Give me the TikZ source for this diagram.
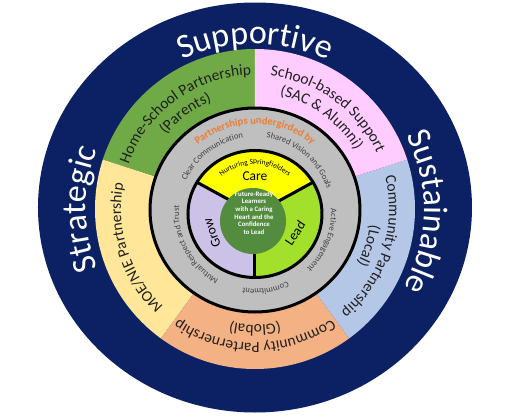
\documentclass[tikz,border=0pt]{standalone}
\usepackage{fontspec}
\setmainfont{Carlito}
\usetikzlibrary{decorations.text}
\definecolor{navyc}{HTML}{0B2163}
\definecolor{greenc}{HTML}{6FAA47}
\definecolor{pinkc}{HTML}{FFCCFF}
\definecolor{lblue}{HTML}{B4C7E7}
\definecolor{orangec}{HTML}{F4B183}
\definecolor{lyellow}{HTML}{FFE699}
\definecolor{grayc}{HTML}{BFBFBF}
\definecolor{coreyellow}{HTML}{FFFF00}
\definecolor{leadgreen}{HTML}{A2E02C}
\definecolor{lavender}{HTML}{CCC2E8}
\definecolor{centergreen}{HTML}{538C3E}
\definecolor{orangetxt}{HTML}{ED7D31}
\definecolor{graytxt}{HTML}{3F3F3F}
\definecolor{darktxt}{HTML}{1F1F1F}
\newcommand\pastelfont{\fontsize{15.5pt}{18pt}\selectfont}
\newcommand\bigfont{\fontsize{34pt}{40pt}\selectfont}
\newcommand\smallfont{\fontsize{8.5pt}{10pt}\selectfont}
\newcommand\ArcLabel[7][]{%
  \pgfmathsetmacro\aStart{#5+#6}%
  \pgfmathsetmacro\aEnd{#5-#6}%
  \path[shift={(#2)}, decorate, decoration={text along path, text align=center, #1, text={#7}}]
    (\aStart:#3pt and #4pt) arc[start angle=\aStart, end angle=\aEnd, x radius=#3pt, y radius=#4pt];}
\tikzset{blackline/.style={line width=3pt, draw=black},
  corelabel/.style={font=\fontsize{13.5pt}{16pt}\selectfont, inner sep=1pt}}
\begin{document}
\begin{tikzpicture}[x=1pt,y=1pt]
\useasboundingbox (-255,-207) rectangle (252,209);
% outer navy ring
\fill[navyc] (0,1.5) ellipse[x radius=217pt, y radius=205pt];
% pastel segments
\begin{scope}
  \clip (0,0) circle[radius=160pt];
  \fill[greenc]  (0,0) -- (90:300pt) -- (126:300pt) -- (162:300pt) -- cycle;
  \fill[lyellow] (0,0) -- (162:300pt) -- (198:300pt) -- (234:300pt) -- cycle;
  \fill[orangec] (0,0) -- (234:300pt) -- (270:300pt) -- (306:300pt) -- cycle;
  \fill[lblue]   (0,0) -- (306:300pt) -- (342:300pt) -- (18:300pt) -- cycle;
  \fill[pinkc]   (0,0) -- (18:300pt) -- (54:300pt) -- (90:300pt) -- cycle;
\end{scope}
% gray ring
\fill[grayc] (0,-1) ellipse[x radius=105pt, y radius=102pt];
\draw[blackline] (0,-1) ellipse[x radius=105pt, y radius=102pt];
% core sectors
\begin{scope}[shift={(0,-5)}]
  \begin{scope}
    \clip (0,0) ellipse[x radius=67pt, y radius=63.5pt];
    \fill[coreyellow] (0,0) -- (30:300pt) -- (90:300pt) -- (150:300pt) -- cycle;
    \fill[lavender]   (0,0) -- (150:300pt) -- (210:300pt) -- (270:300pt) -- cycle;
    \fill[leadgreen]  (0,0) -- (270:300pt) -- (330:300pt) -- (30:300pt) -- cycle;
  \end{scope}
  \coordinate (cc) at (0,0);
  \draw[blackline] (cc) -- (30:67pt and 63.5pt);
  \draw[blackline] (cc) -- (150:67pt and 63.5pt);
  \draw[blackline] (cc) -- (270:67pt and 63.5pt);
  \draw[blackline] (0,0) ellipse[x radius=67pt, y radius=63.5pt];
\end{scope}
\fill[centergreen] (-2,-12) circle[radius=33pt];
% outer words
\ArcLabel[text color=white]{0,0}{169}{165}{90}{85}{|\bigfont|Supportive}
\ArcLabel[text color=white]{0,0}{169}{165}{180}{85}{|\bigfont|Strategic}
\ArcLabel[text color=white]{0,0}{169}{165}{-1}{85}{|\bigfont|Sustainable}
% pastel words
\ArcLabel[text color=darktxt]{0,0}{134}{134}{126}{85}{|\pastelfont|Home-School Partnership}
\ArcLabel[text color=darktxt]{0,0}{116}{116}{126}{85}{|\pastelfont|(Parents)}
\ArcLabel[text color=darktxt]{0,0}{134}{134}{54}{85}{|\pastelfont|School-based Support}
\ArcLabel[text color=darktxt]{0,0}{116}{116}{54}{85}{|\pastelfont|(SAC {\&} Alumni)}
\ArcLabel[text color=darktxt]{0,0}{134}{134}{-18}{85}{|\pastelfont|Community Partnership}
\ArcLabel[text color=darktxt]{0,0}{116}{116}{-18}{85}{|\pastelfont|(Local)}
\ArcLabel[text color=darktxt]{0,0}{134}{134}{270}{85}{|\pastelfont|Community Parternership}
\ArcLabel[text color=darktxt]{0,0}{116}{116}{270}{85}{|\pastelfont|(Global)}
\ArcLabel[text color=darktxt]{0,0}{134}{134}{198}{85}{|\pastelfont|MOE/NIE Partnership}
% gray ring words
\ArcLabel[text color=orangetxt]{0,-4}{89}{89}{90}{85}{|\bfseries\fontsize{10.5pt}{12pt}\selectfont|Partnerships undergirded by}
\ArcLabel[text color=graytxt]{0,-4}{76}{76}{127}{60}{|\smallfont|Clear Communication}
\ArcLabel[text color=graytxt]{0,-4}{76}{76}{50}{60}{|\smallfont|Shared Vision and Goals}
\ArcLabel[text color=graytxt]{0,-4}{76}{76}{-22}{60}{|\smallfont|Active Engagement}
\ArcLabel[text color=graytxt]{0,-4}{76}{76}{278}{60}{|\smallfont|Commitment}
\ArcLabel[text color=graytxt]{0,-4}{76}{76}{208}{60}{|\smallfont|Mutual Respect and Trust}
\ArcLabel[text color=black]{0,-5}{50}{50}{90}{75}{|\fontsize{7.5pt}{9pt}\selectfont|Nurturing Springfielders}
% core labels
\node[corelabel] (care) at (0,33) {Care};
\node[corelabel, rotate=56] (lead) at (40,-24) {Lead};
\node[corelabel, rotate=110] (grow) at (-43,-24) {Grow};
\node[align=center, text=white, font=\bfseries\fontsize{6.8pt}{7.6pt}\selectfont, inner sep=0pt] (centre) at (-1,-4)
  {Future-Ready\\Learners\\with a Caring\\Heart and the\\Confidence\\to Lead};
\end{tikzpicture}
\end{document}
